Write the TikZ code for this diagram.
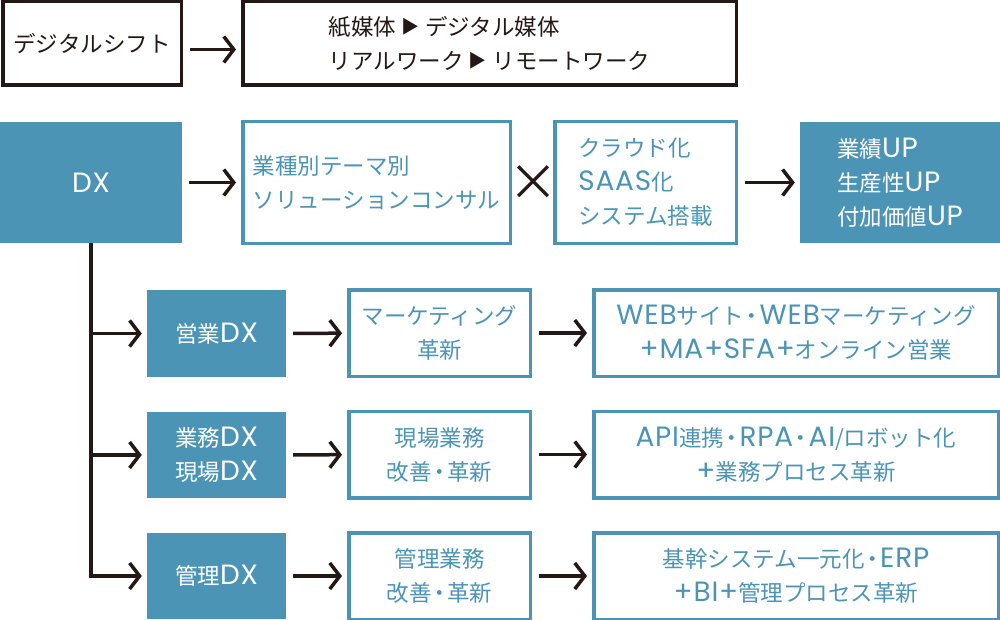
\documentclass[tikz,border=0pt]{standalone}
\usepackage{fontspec}
\setmainfont{Noto Sans CJK JP}
\newfontfamily\latinfont{Poppins}[Scale=1.24, LetterSpace=3]
\usetikzlibrary{arrows.meta, positioning}
\definecolor{dxblue}{RGB}{75,148,181}
\definecolor{ink}{RGB}{35,24,21}
\newcommand{\lat}[1]{{\latinfont #1}}
\newcommand{\tri}{\hspace{5pt}\raisebox{2pt}{\fontsize{18pt}{18pt}\selectfont ▶}\hspace{6pt}}
\newcommand{\dt}{\kern-3.5pt・\kern-3.5pt}

\begin{document}
\begin{tikzpicture}[x=1pt, y=-1pt,
  every node/.style={font=\fontsize{22.5pt}{34pt}\selectfont, inner sep=0pt},
  inkbox/.style={draw=ink, line width=3.5pt, text=ink},
  linebox/.style={draw=dxblue, line width=3.5pt, text=dxblue},
  fillbox/.style={fill=dxblue, text=white},
  arr/.style={draw=ink, line width=3.5pt, -{Straight Barb[length=10pt, width=26pt]}, shorten <=7pt, shorten >=5pt}]
  \useasboundingbox (0,0) rectangle (1000,620);

  % Digital shift
  \node[inkbox, minimum width=178.5pt, minimum height=83.5pt] (shift) at (92,43.5) {デジタルシフト};
  \node[inkbox, minimum width=493.5pt, minimum height=83.5pt, align=left] (media) at (489.5,43.5)
    {紙媒体\tri デジタル媒体\\リアルワーク\tri リモートワーク};
  \draw[arr] ([yshift=-6pt]shift.east) -- ([yshift=-6pt]media.west);

  % DX row
  \node[fillbox, minimum width=182pt, minimum height=121pt] (dx) at (91,182.5) {\lat{DX}};
  \node[linebox, minimum width=267.5pt, minimum height=121.5pt, align=left] (theme) at (376.5,182.5)
    {業種別テーマ別\\ソリューションコンサル};
  \node[text=ink, font=\fontsize{50pt}{50pt}\selectfont] (cross) at (533,183) {×};
  \node[linebox, minimum width=181.5pt, minimum height=121.5pt, align=left] (cloud) at (645.5,182.5)
    {クラウド化\\\lat{SAAS}化\\システム搭載};
  \node[fillbox, minimum width=200pt, minimum height=121pt, align=left] (result) at (900,182.5)
    {業績\lat{UP}\\生産性\lat{UP}\\付加価値\lat{UP}};
  \draw[arr] (dx) -- (theme);
  \draw[arr] (cloud) -- (result);

  % Sub DX rows
  \node[fillbox, minimum width=139pt, minimum height=87pt] (sales) at (216.5,333.5) {営業\lat{DX}};
  \node[linebox, minimum width=181.5pt, minimum height=86.5pt, align=center] (sales-mid) at (439.5,333)
    {マーケティング\\革新};
  \node[linebox, minimum width=404.5pt, minimum height=86.5pt, align=center] (sales-out) at (796,333)
    {\lat{WEB}サイト\dt\lat{WEB}マーケティング\\\lat{+MA+SFA+}オンライン営業};

  \node[fillbox, minimum width=139pt, minimum height=86pt, align=center] (ops) at (216.5,455)
    {業務\lat{DX}\\現場\lat{DX}};
  \node[linebox, minimum width=181.5pt, minimum height=86.5pt, align=center] (ops-mid) at (439.5,454.5)
    {現場業務\\改善\dt 革新};
  \node[linebox, minimum width=404.5pt, minimum height=86.5pt, align=center] (ops-out) at (796,454.5)
    {\lat{API}連携\dt\lat{RPA}\dt\lat{AI}/ロボット化\\\lat{+}業務プロセス革新};

  \node[fillbox, minimum width=139pt, minimum height=86pt] (mgmt) at (216.5,576) {管理\lat{DX}};
  \node[linebox, minimum width=181.5pt, minimum height=86.5pt, align=center] (mgmt-mid) at (439.5,576)
    {管理業務\\改善\dt 革新};
  \node[linebox, minimum width=404.5pt, minimum height=86.5pt, align=center] (mgmt-out) at (796,576)
    {基幹システム一元化\dt\lat{ERP}\\\lat{+BI+}管理プロセス革新};

  % Branches from DX
  \draw[arr, shorten <=0pt] (dx.south) |- (mgmt.west);
  \foreach \n in {sales, ops}
    \draw[arr, shorten <=0pt] (dx.south |- \n.west) -- (\n.west);

  \foreach \n in {sales, ops, mgmt} {
    \draw[arr] (\n) -- (\n-mid);
    \draw[arr] (\n-mid) -- (\n-out);
  }
\end{tikzpicture}
\end{document}
